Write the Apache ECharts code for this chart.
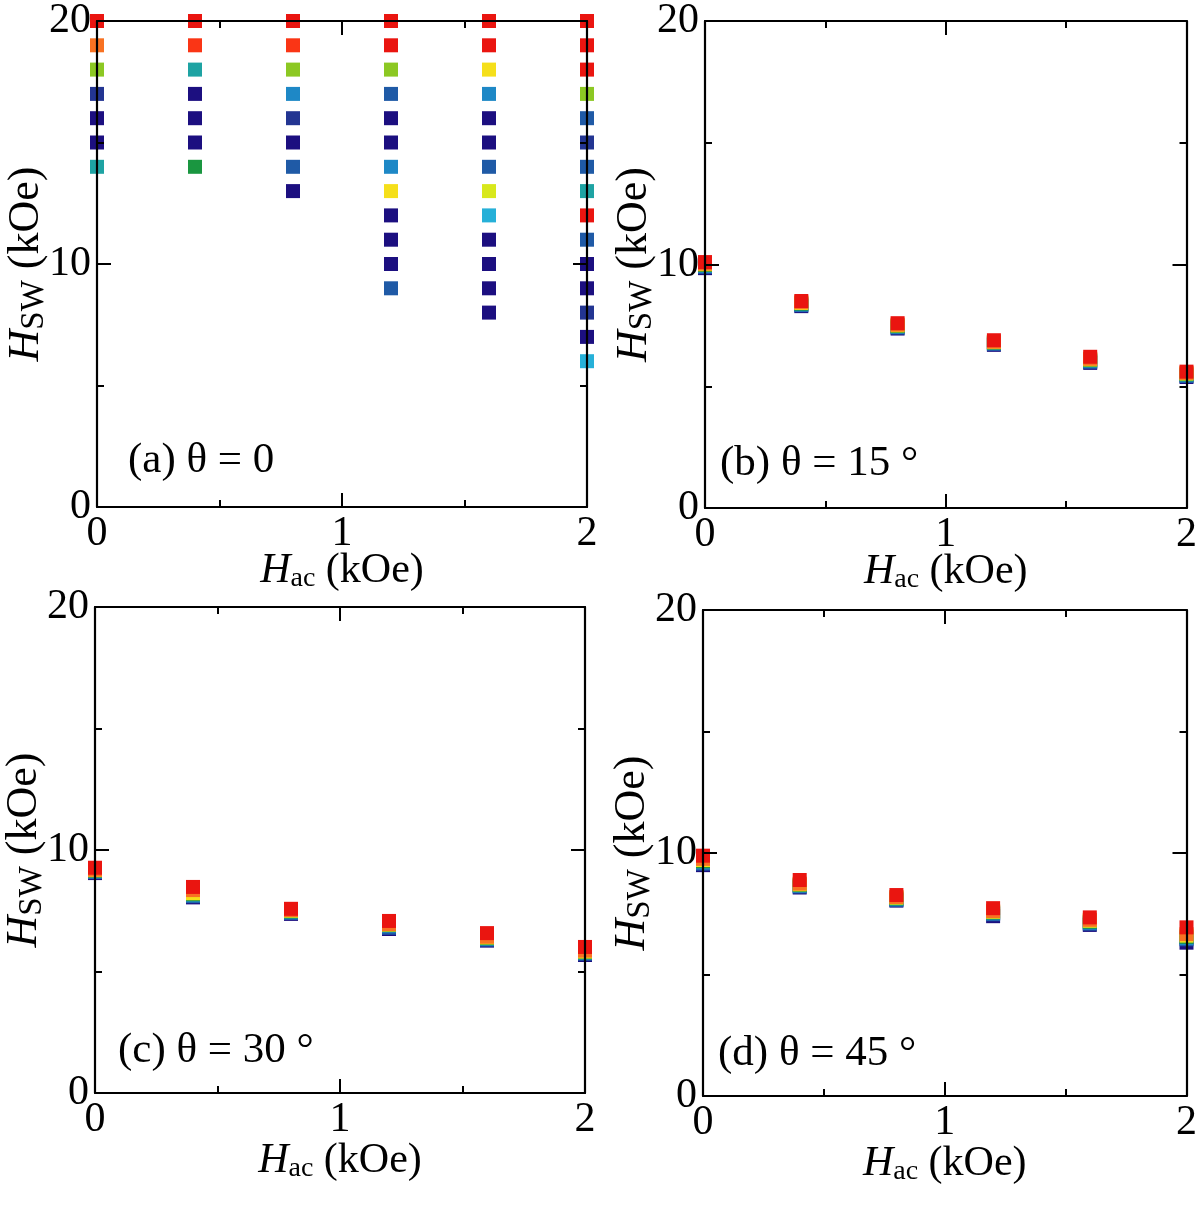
<!DOCTYPE html>
<html><head><meta charset="utf-8">
<script src="https://cdn.jsdelivr.net/npm/echarts@6/dist/echarts.min.js"></script>
<style>html,body{margin:0;padding:0;background:#fff}#c{width:1200px;height:1205px}</style>
</head><body><div id="c"></div>
<script>
// ---------- data ----------
const hac = [0, 0.4, 0.8, 1.2, 1.6, 2.0];
const xTickValues = [0, 1, 2];
const yTickValues = [0, 10, 20];
// colour classes (index into palette)
const classColors = ['#1c0f80','#233592','#1f5aa6','#1e88c6','#26b0d8','#1ea3a3','#1a9640','#8cc823','#d8e81c','#f5df1a','#f87222','#fa3515','#ea1510'];
// panel (a): [Hac, Hsw, class]
const panelA = [
 [0,20,12],[0,19,10],[0,18,7],[0,17,1],[0,16,0],[0,15,0],[0,14,5],
 [0.4,20,12],[0.4,19,11],[0.4,18,5],[0.4,17,0],[0.4,16,0],[0.4,15,0],[0.4,14,6],
 [0.8,20,12],[0.8,19,11],[0.8,18,7],[0.8,17,3],[0.8,16,1],[0.8,15,0],[0.8,14,2],[0.8,13,0],
 [1.2,20,12],[1.2,19,12],[1.2,18,7],[1.2,17,2],[1.2,16,0],[1.2,15,0],[1.2,14,3],[1.2,13,9],[1.2,12,0],[1.2,11,0],[1.2,10,0],[1.2,9,2],
 [1.6,20,12],[1.6,19,12],[1.6,18,9],[1.6,17,3],[1.6,16,0],[1.6,15,0],[1.6,14,2],[1.6,13,8],[1.6,12,4],[1.6,11,0],[1.6,10,0],[1.6,9,0],[1.6,8,0],
 [2.0,20,12],[2.0,19,12],[2.0,18,12],[2.0,17,7],[2.0,16,2],[2.0,15,1],[2.0,14,2],[2.0,13,5],[2.0,12,12],[2.0,11,2],[2.0,10,0],[2.0,9,0],[2.0,8,1],[2.0,7,0],[2.0,6,4]
];
// stacked colour series for panels (b)-(d), lowest (navy) to highest (red)
const stackClasses = [0, 2, 3, 6, 9, 10, 12];
const panelB = [
 [9.85, 8.29, 7.37, 6.70, 5.96, 5.38],
 [9.90, 8.33, 7.41, 6.74, 6.00, 5.42],
 [9.94, 8.36, 7.44, 6.77, 6.04, 5.46],
 [9.98, 8.39, 7.47, 6.79, 6.07, 5.49],
 [10.01, 8.42, 7.50, 6.81, 6.10, 5.52],
 [10.04, 8.45, 7.53, 6.83, 6.13, 5.55],
 [10.10, 8.50, 7.59, 6.89, 6.21, 5.60]
];
const panelC = [
 [9.05, 8.05, 7.37, 6.75, 6.27, 5.68],
 [9.09, 8.10, 7.41, 6.80, 6.31, 5.73],
 [9.12, 8.14, 7.44, 6.88, 6.34, 5.76],
 [9.15, 8.18, 7.47, 6.91, 6.37, 5.79],
 [9.17, 8.22, 7.50, 6.93, 6.40, 5.82],
 [9.19, 8.35, 7.53, 6.95, 6.43, 5.86],
 [9.27, 8.48, 7.58, 7.08, 6.58, 6.01]
];
const panelD = [
 [9.50, 8.58, 8.04, 7.40, 7.04, 6.31],
 [9.56, 8.62, 8.07, 7.48, 7.09, 6.45],
 [9.61, 8.65, 8.10, 7.52, 7.13, 6.50],
 [9.66, 8.68, 8.13, 7.55, 7.17, 6.55],
 [9.71, 8.71, 8.16, 7.58, 7.21, 6.60],
 [9.76, 8.74, 8.19, 7.61, 7.25, 6.66],
 [9.89, 8.89, 8.27, 7.73, 7.35, 6.94]
];
const panelLabels = ['(a) θ = 0', '(b) θ = 15 °', '(c) θ = 30 °', '(d) θ = 45 °'];

// ---------- chart ----------
const FONT = '"Liberation Serif", "DejaVu Serif", serif';
const FS = 42;
const grids = [
  {left: 97, top: 20, width: 490, height: 487},
  {left: 705, top: 17, width: 483, height: 491},
  {left: 95, top: 607, width: 490, height: 486},
  {left: 703, top: 610, width: 485, height: 486}
];
const xNameGaps = [42, 42, 46, 46];
const labelPos = [[128, 462], [720, 465], [118, 1052], [718, 1055]];

const lineStyle = {color: '#000', width: 2.2};
const tickStyle = {color: '#000', width: 2};
function nameStyle(size, subSize, subPad) {
  return {fontFamily: FONT, fontSize: size, color: '#000',
    rich: {i: {fontFamily: FONT, fontSize: size, fontStyle: 'italic', color: '#000'},
           s: {fontFamily: FONT, fontSize: subSize, color: '#000', padding: [subPad, 0, 0, 0]}}};
}
const xAxes = [], yAxes = [];
grids.forEach((g, i) => {
  const common = {gridIndex: i, type: 'value', z: 10, splitLine: {show: false},
    axisLine: {show: true, onZero: false, lineStyle},
    axisTick: {show: true, inside: true, length: 14, lineStyle: tickStyle},
    minorTick: {show: true, splitNumber: 2, length: 7, lineStyle: tickStyle},
    minorSplitLine: {show: false}, nameMoveOverlap: false};
  xAxes.push(Object.assign({}, common, {position: 'bottom', min: xTickValues[0], max: xTickValues[2], interval: 1,
    axisLabel: {show: true, fontFamily: FONT, fontSize: FS, color: '#000', margin: 6},
    name: '{i|H}{s|ac} (kOe)', nameLocation: 'middle', nameGap: xNameGaps[i],
    nameTextStyle: nameStyle(FS, 28, 16)}));
  xAxes.push(Object.assign({}, common, {position: 'top', min: 0, max: 2, interval: 1, axisLabel: {show: false}}));
  yAxes.push(Object.assign({}, common, {position: 'left', min: yTickValues[0], max: yTickValues[2], interval: 10,
    axisLabel: {show: true, fontFamily: FONT, fontSize: FS, color: '#000', margin: 6},
    name: '{i|H}{s|SW} (kOe)', nameLocation: 'middle', nameGap: 46, nameRotate: 90,
    nameTextStyle: nameStyle(44, 33, 17)}));
  yAxes.push(Object.assign({}, common, {position: 'right', min: 0, max: 20, interval: 10, axisLabel: {show: false}}));
});

const series = [];
series.push({type: 'scatter', xAxisIndex: 0, yAxisIndex: 0, symbol: 'rect', symbolSize: 14, clip: false,
  data: panelA.map(d => ({value: [d[0], d[1]], itemStyle: {color: classColors[d[2]], opacity: 1}}))});
[panelB, panelC, panelD].forEach((panel, pi) => {
  const gi = pi + 1;
  panel.forEach((vals, k) => {
    series.push({type: 'scatter', xAxisIndex: gi * 2, yAxisIndex: gi * 2, symbol: 'rect', symbolSize: 14, clip: false,
      itemStyle: {color: classColors[stackClasses[k]], opacity: 1},
      data: vals.map((v, j) => [hac[j], v])});
  });
});

const graphic = panelLabels.map((t, i) => ({type: 'text', left: labelPos[i][0], top: labelPos[i][1] - 23, z: 20,
  style: {text: t, fontFamily: FONT, fontSize: 43, fill: '#000'}}));

const chart = echarts.init(document.getElementById('c'), null, {renderer: 'canvas'});
chart.setOption({animation: false, backgroundColor: '#fff', grid: grids, xAxis: xAxes, yAxis: yAxes, series, graphic});
</script></body></html>
